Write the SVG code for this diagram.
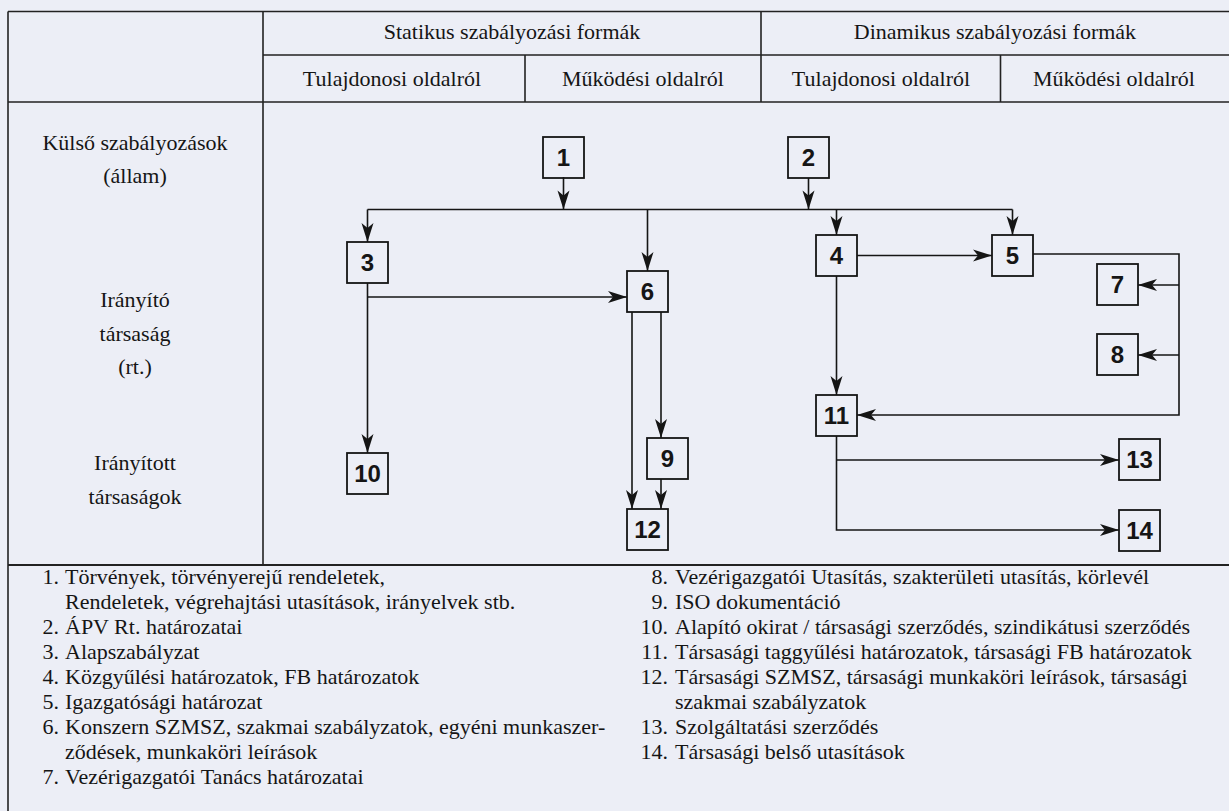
<svg xmlns="http://www.w3.org/2000/svg" width="1229" height="811" viewBox="0 0 1229 811">
<defs>
<style>
.bg{fill:#eceef6}
.tl{stroke:#222;stroke-width:1.6;fill:none}
.t{font-family:"Liberation Serif","Times New Roman",serif;font-size:22px;fill:#151515}
.c{text-anchor:middle}
.e{text-anchor:end}
.box rect{fill:none;stroke:#151515;stroke-width:1.8}
.box text{font-family:"Liberation Sans Narrow","Liberation Sans",Arial,sans-serif;font-stretch:condensed;font-weight:bold;font-size:24px;fill:#151515;text-anchor:middle}
.cn{stroke:#151515;stroke-width:1.6;fill:none}
.ar{marker-end:url(#ah)}
</style>
<marker id="ah" viewBox="-20 -7 21 14" refX="0" refY="0" markerWidth="21" markerHeight="14" markerUnits="userSpaceOnUse" orient="auto">
<path d="M0,0 L-19,-6 L-14,0 L-19,6 Z" fill="#151515"/>
</marker>
</defs>
<rect class="bg" x="0" y="0" width="1229" height="811"/>
<g id="table">
<path class="tl" d="M8,11.5 H1229 M8,11.5 V811 M263,11.5 V565 M263,55 H1229 M8,102 H1229 M525,55 V102 M761,11.5 V102 M1000.5,55 V102"/>
<path class="tl" d="M8,565 H1229" style="stroke-width:2"/>
</g>
<g id="headers">
<text class="t c" x="512" y="39">Statikus szabályozási formák</text>
<text class="t c" x="995" y="39">Dinamikus szabályozási formák</text>
<text class="t c" x="392" y="86">Tulajdonosi oldalról</text>
<text class="t c" x="643" y="86">Működési oldalról</text>
<text class="t c" x="881" y="86">Tulajdonosi oldalról</text>
<text class="t c" x="1114" y="86">Működési oldalról</text>
</g>
<g id="rowlabels">
<text class="t c" x="135" y="150">Külső szabályozások</text>
<text class="t c" x="135" y="183">(állam)</text>
<text class="t c" x="135" y="307">Irányító</text>
<text class="t c" x="135" y="341">társaság</text>
<text class="t c" x="135" y="374">(rt.)</text>
<text class="t c" x="135" y="470">Irányított</text>
<text class="t c" x="135" y="504">társaságok</text>
</g>
<g id="connectors">
<path class="cn ar" d="M563.5,177 V209.5"/>
<path class="cn ar" d="M808.5,178 V209.5"/>
<path class="cn" d="M367.5,209.5 H1012.5"/>
<path class="cn ar" d="M367.5,209.5 V242"/>
<path class="cn ar" d="M647.5,209.5 V271"/>
<path class="cn ar" d="M836.5,209.5 V235"/>
<path class="cn ar" d="M1012.5,209.5 V235"/>
<path class="cn ar" d="M367.5,283 V453"/>
<path class="cn ar" d="M367.5,297 H627"/>
<path class="cn ar" d="M632,312 V509"/>
<path class="cn ar" d="M661,312 V438"/>
<path class="cn ar" d="M661,479 V509"/>
<path class="cn ar" d="M857,255.5 H992"/>
<path class="cn ar" d="M836.5,276 V395"/>
<path class="cn ar" d="M1033,254 H1179 V415 H857"/>
<path class="cn ar" d="M1179,285 H1138"/>
<path class="cn ar" d="M1179,355 H1138"/>
<path class="cn ar" d="M836.5,436 V530 H1119"/>
<path class="cn ar" d="M836.5,460 H1119"/>
</g>
<g id="n1" class="box"><rect x="543" y="137" width="41" height="41"/><text x="563.5" y="166">1</text></g>
<g id="n2" class="box"><rect x="788" y="137" width="41" height="41"/><text x="808.5" y="166">2</text></g>
<g id="n3" class="box"><rect x="347" y="242" width="41" height="41"/><text x="367.5" y="271">3</text></g>
<g id="n4" class="box"><rect x="816" y="235" width="41" height="41"/><text x="836.5" y="264">4</text></g>
<g id="n5" class="box"><rect x="992" y="235" width="41" height="41"/><text x="1012.5" y="264">5</text></g>
<g id="n6" class="box"><rect x="627" y="271" width="41" height="41"/><text x="647.5" y="300">6</text></g>
<g id="n7" class="box"><rect x="1097" y="264" width="41" height="41"/><text x="1117.5" y="293">7</text></g>
<g id="n8" class="box"><rect x="1097" y="334" width="41" height="41"/><text x="1117.5" y="363">8</text></g>
<g id="n9" class="box"><rect x="647" y="438" width="41" height="41"/><text x="667.5" y="467">9</text></g>
<g id="n10" class="box"><rect x="347" y="453" width="41" height="41"/><text x="367.5" y="482">10</text></g>
<g id="n11" class="box"><rect x="816" y="395" width="41" height="41"/><text x="836.5" y="424">11</text></g>
<g id="n12" class="box"><rect x="627" y="509" width="41" height="41"/><text x="647.5" y="538">12</text></g>
<g id="n13" class="box"><rect x="1119" y="439" width="41" height="41"/><text x="1139.5" y="468">13</text></g>
<g id="n14" class="box"><rect x="1119" y="510" width="41" height="41"/><text x="1139.5" y="539">14</text></g>
<g id="legend-left">
<text class="t e" x="59" y="584">1.</text><text class="t" x="65" y="584">Törvények, törvényerejű rendeletek,</text>
<text class="t" x="65" y="609">Rendeletek, végrehajtási utasítások, irányelvek stb.</text>
<text class="t e" x="59" y="634">2.</text><text class="t" x="65" y="634">ÁPV Rt. határozatai</text>
<text class="t e" x="59" y="659">3.</text><text class="t" x="65" y="659">Alapszabályzat</text>
<text class="t e" x="59" y="684">4.</text><text class="t" x="65" y="684">Közgyűlési határozatok, FB határozatok</text>
<text class="t e" x="59" y="709">5.</text><text class="t" x="65" y="709">Igazgatósági határozat</text>
<text class="t e" x="59" y="734">6.</text><text class="t" x="65" y="734">Konszern SZMSZ, szakmai szabályzatok, egyéni munkaszer-</text>
<text class="t" x="65" y="759">ződések, munkaköri leírások</text>
<text class="t e" x="59" y="784">7.</text><text class="t" x="65" y="784">Vezérigazgatói Tanács határozatai</text>
</g>
<g id="legend-right">
<text class="t e" x="668" y="584">8.</text><text class="t" x="675" y="584">Vezérigazgatói Utasítás, szakterületi utasítás, körlevél</text>
<text class="t e" x="668" y="609">9.</text><text class="t" x="675" y="609">ISO dokumentáció</text>
<text class="t e" x="668" y="634">10.</text><text class="t" x="675" y="634">Alapító okirat / társasági szerződés, szindikátusi szerződés</text>
<text class="t e" x="668" y="659">11.</text><text class="t" x="675" y="659">Társasági taggyűlési határozatok, társasági FB határozatok</text>
<text class="t e" x="668" y="684">12.</text><text class="t" x="675" y="684">Társasági SZMSZ, társasági munkaköri leírások, társasági</text>
<text class="t" x="675" y="709">szakmai szabályzatok</text>
<text class="t e" x="668" y="734">13.</text><text class="t" x="675" y="734">Szolgáltatási szerződés</text>
<text class="t e" x="668" y="759">14.</text><text class="t" x="675" y="759">Társasági belső utasítások</text>
</g>
</svg>
